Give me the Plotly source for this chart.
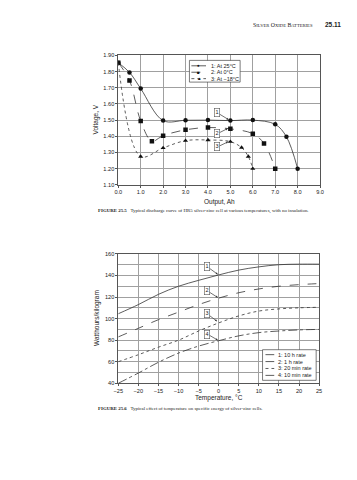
import plotly.graph_objects as go

W, H = 357, 480

# ---------- Figure 25.5 data ----------
out1 = [0.0, 0.5, 1.0, 2.0, 3.0, 4.0, 5.0, 6.0, 7.0, 7.5, 8.0]
volt1 = [1.855, 1.795, 1.695, 1.497, 1.499, 1.500, 1.497, 1.500, 1.474, 1.397, 1.200]
out2 = [0.0, 0.5, 1.0, 1.5, 2.0, 3.0, 4.0, 5.0, 6.0, 6.5, 7.0]
volt2 = [1.855, 1.745, 1.495, 1.370, 1.404, 1.440, 1.454, 1.446, 1.416, 1.356, 1.200]
out3 = [0.0, 1.0, 2.0, 3.0, 4.0, 5.0, 5.5, 5.8, 6.0]
volt3 = [1.855, 1.275, 1.328, 1.373, 1.377, 1.367, 1.330, 1.275, 1.200]
top_names = ["1: At 25°C", "2: At 0°C", "3: At −18°C"]
volt_ticks = [1.10, 1.20, 1.30, 1.40, 1.50, 1.60, 1.70, 1.80, 1.90]
out_ticks = [0, 1, 2, 3, 4, 5, 6, 7, 8, 9]

# ---------- Figure 25.6 data ----------
temps = [-25, -20, -15, -10, -5, 0, 5, 10, 15, 20, 25]
wh_10h = [104.5, 113, 122.5, 130, 135.5, 140.5, 145, 148, 150, 150.5, 150.5]
wh_1h = [83, 91, 99, 106, 113, 119, 124, 127.5, 130, 131.5, 132.5]
wh_20m = [60, 66.5, 73.5, 80, 88.5, 96, 102.5, 107, 109, 110, 110.5]
wh_10m = [40, 49.5, 59.5, 68, 74.5, 79.5, 84, 87, 88.5, 89.5, 90]
bot_names = ["1: 10 h rate", "2: 1 h rate", "3: 20 min rate", "4: 10 min rate"]
wh_ticks = [40, 60, 80, 100, 120, 140, 160]
temp_ticks = [-25, -20, -15, -10, -5, 0, 5, 10, 15, 20, 25]


def px(x):
    return x / W


def py(y):
    return 1 - y / H


LC = "#333333"
GRID = "#a0a0a0"
SANS = "Liberation Sans, Arial, sans-serif"
SERIF = "Liberation Serif, Times New Roman, serif"

fig = go.Figure()

top_series = [(out1, volt1, "solid", "circle", 4.5),
              (out2, volt2, "dash", "square", 4.5),
              (out3, volt3, "dot", "triangle-up", 4.5)]
for (xs, ys, dash, sym, ms), nm in zip(top_series, top_names):
    fig.add_trace(go.Scatter(x=xs, y=ys, name=nm, mode="lines+markers",
                             line=dict(color=LC, width=0.8, dash=dash, shape="spline", smoothing=1.0),
                             marker=dict(symbol=sym, size=ms, color="#111"),
                             xaxis="x", yaxis="y", showlegend=False))

bot_series = [(wh_10h, "solid"), (wh_1h, "dash"), (wh_20m, "dot"), (wh_10m, "dashdot")]
for (ys, dash), nm in zip(bot_series, bot_names):
    fig.add_trace(go.Scatter(x=temps, y=ys, name=nm, mode="lines",
                             line=dict(color=LC, width=0.8, dash=dash, shape="spline", smoothing=1.0),
                             xaxis="x2", yaxis="y2", showlegend=False))

axis_common = dict(showgrid=True, gridcolor=GRID, gridwidth=0.6, showline=True, linecolor="#555",
                   linewidth=0.8, mirror=True, ticks="outside", ticklen=2, tickcolor="#555",
                   tickfont=dict(family=SANS, size=5.6, color="#222"), zeroline=False)

fig.update_layout(
    width=W, height=H, margin=dict(l=0, r=0, t=0, b=0),
    paper_bgcolor="white", plot_bgcolor="white", showlegend=False,
    xaxis=dict(domain=[px(108), px(315)], range=[0, 9], tickvals=out_ticks, tickformat=".1f",
               anchor="y", **axis_common),
    yaxis=dict(domain=[py(176), py(45)], range=[1.10, 1.90], tickvals=volt_ticks, tickformat=".2f",
               anchor="x", **axis_common),
    xaxis2=dict(domain=[px(108), px(314)], range=[-25, 25], tickvals=temp_ticks,
                anchor="y2", **axis_common),
    yaxis2=dict(domain=[py(377), py(246)], range=[40, 160], tickvals=wh_ticks,
                anchor="x2", **axis_common),
)
fig.update_layout(yaxis2_minor=dict(dtick=10, showgrid=True, gridcolor=GRID, gridwidth=0.6))

ann = []
shapes = []

def text(x, y, s, size=6, family=SANS, xanchor="center", angle=0, color="#222"):
    ann.append(dict(x=px(x), y=py(y), xref="paper", yref="paper", text=s, showarrow=False,
                    font=dict(family=family, size=size, color=color), xanchor=xanchor,
                    yanchor="middle", textangle=angle))

# header
text(244, 14, "S<span style='font-size:4.6px'>ILVER</span> O<span style='font-size:4.6px'>XIDE</span> B<span style='font-size:4.6px'>ATTERIES</span>",
     size=5.8, family=SERIF, xanchor="left")
text(318, 14, "<b>25.11</b>", size=6.5, family=SANS, xanchor="left")

# axis titles
text(212, 193, "Output, Ah", size=6.5)
text(85, 110, "Voltage, V", size=6.5, angle=-90)
text(211, 392, "Temperature, °C", size=6.5)
text(86, 311, "Watthours/kilogram", size=6.5, angle=-90)

# captions
text(85, 203, "<b>FIGURE 25.5</b>   Typical discharge curve of HR5 silver-zinc cell at various temperatures, with no insulation.",
     size=4.9, family=SERIF, xanchor="left")
text(85, 403, "<b>FIGURE 25.6</b>   Typical effect of temperature on specific energy of silver-zinc cells.",
     size=4.9, family=SERIF, xanchor="left")

# top legend (custom)
shapes.append(dict(type="rect", xref="paper", yref="paper", x0=px(181), x1=px(233), y0=py(72), y1=py(50),
                   line=dict(color="#444", width=0.7), fillcolor="white", layer="above"))
glyphs = ["●", "■", "▲"]
dashes_top = ["solid", "dash", "dot"]
for i, (nm, g, d) in enumerate(zip(top_names, glyphs, dashes_top)):
    yy = 55.5 + i * 6.5
    shapes.append(dict(type="line", xref="paper", yref="paper", x0=px(183), x1=px(198), y0=py(yy), y1=py(yy),
                       line=dict(color=LC, width=0.8, dash=d), layer="above"))
    text(190.5, yy, g, size=4.5, color="#111")
    text(201.5, yy, nm, size=5.5, xanchor="left")

# bottom legend (custom)
shapes.append(dict(type="rect", xref="paper", yref="paper", x0=px(256), x1=px(311), y0=py(374), y1=py(343),
                   line=dict(color="#444", width=0.7), fillcolor="white", layer="above"))
dashes_bot = ["solid", "dash", "dot", "dashdot"]
for i, (nm, d) in enumerate(zip(bot_names, dashes_bot)):
    yy = 348 + i * 7.0
    shapes.append(dict(type="line", xref="paper", yref="paper", x0=px(259), x1=px(268), y0=py(yy), y1=py(yy),
                       line=dict(color=LC, width=0.8, dash=d), layer="above"))
    text(270, yy, nm, size=5.5, xanchor="left")

# callout boxes with arrows (top)
top_callouts = [("1", 4.42, 1.545, 4.92, 1.503), ("2", 4.42, 1.416, 4.88, 1.448), ("3", 4.42, 1.334, 4.9, 1.366)]
for lab, bx, by, tx, ty in top_callouts:
    ann.append(dict(x=tx, y=ty, xref="x", yref="y", ax=bx, ay=by, axref="x", ayref="y", text="",
                    showarrow=True, arrowhead=2, arrowsize=0.6, arrowwidth=0.7, arrowcolor="#333"))
    ann.append(dict(x=bx, y=by, xref="x", yref="y", text=lab, showarrow=False,
                    font=dict(family=SANS, size=5.5, color="#222"), bgcolor="white",
                    bordercolor="#555", borderwidth=0.6, borderpad=0.8))

bot_callouts = [("1", -2.8, 148, -0.2, 141), ("2", -2.8, 125.7, -0.2, 119.5),
                ("3", -2.8, 104.3, -0.4, 97.5), ("4", -2.8, 85.6, -0.2, 80)]
for lab, bx, by, tx, ty in bot_callouts:
    ann.append(dict(x=tx, y=ty, xref="x2", yref="y2", ax=bx, ay=by, axref="x2", ayref="y2", text="",
                    showarrow=True, arrowhead=2, arrowsize=0.6, arrowwidth=0.7, arrowcolor="#333"))
    ann.append(dict(x=bx, y=by, xref="x2", yref="y2", text=lab, showarrow=False,
                    font=dict(family=SANS, size=5.5, color="#222"), bgcolor="white",
                    bordercolor="#555", borderwidth=0.6, borderpad=0.8))

fig.update_layout(annotations=ann, shapes=shapes)
fig.write_html("out.html")
